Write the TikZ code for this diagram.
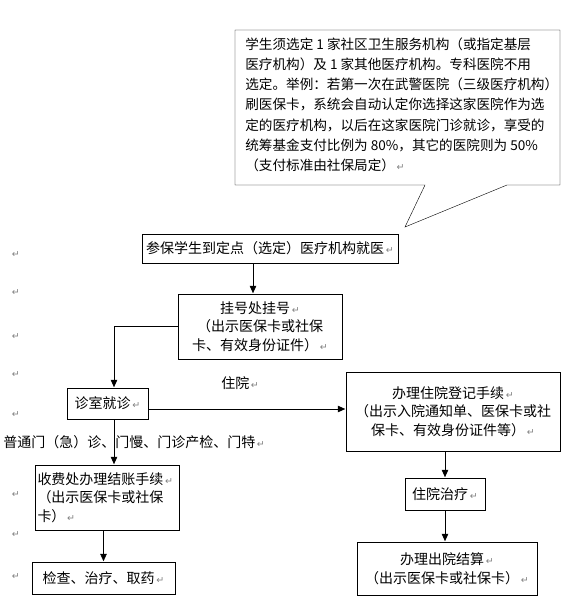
\documentclass[tikz,border=0pt]{standalone}
\usepackage{fontspec}
\setmainfont{Noto Sans CJK SC}
\newfontfamily\retfont{DejaVu Sans}
\usetikzlibrary{arrows.meta}
\newcommand{\ret}{{\retfont\fontsize{9.5}{9.5}\selectfont\color{gray}\,↵}}

\begin{document}
\begin{tikzpicture}[x=1pt,y=-1pt]
\tikzset{ >={Triangle[length=8pt,width=7pt]}, line width=0.75pt,
  box/.style={draw, inner sep=2pt, align=center, font=\fontsize{14}{18.5}\selectfont},
  lbl/.style={inner sep=0pt, anchor=west, font=\fontsize{14}{18}\selectfont},
  retmark/.style={inner sep=0pt}  }

\useasboundingbox (0,0) rectangle (579,608);

% speech bubble
\draw (235,30) -- (560,30) -- (560,185) -- (507,185) -- (405,227)
      -- (425,185) -- (235,185) -- cycle;
\node [lbl, anchor=north west, align=left,
       font=\fontsize{13.6}{20.3}\selectfont] (note) at (245,37)
  {学生须选定 1 家社区卫生服务机构（或指定基层\\
   医疗机构）及 1 家其他医疗机构。专科医院不用\\
   选定。举例：若第一次在武警医院（三级医疗机构）\\
   刷医保卡，系统会自动认定你选择这家医院作为选\\
   定的医疗机构，以后在这家医院门诊就诊，享受的\\
   统筹基金支付比例为 80\%，其它的医院则为 50\%\\
   （支付标准由社保局定）\ret};

\node [box, minimum width=256, minimum height=29] (go)  at (270,248.5)
  {参保学生到定点（选定）医疗机构就医\ret};
\node [box, minimum width=164, minimum height=65] (reg) at (260,326.5)
  {挂号处挂号\ret\\（出示医保卡或社保\\卡、有效身份证件）\ret};
\node [box, minimum width=81, minimum height=31] (clinic) at (107.5,403.5)
  {诊室就诊\ret};
\node [box, minimum width=214, minimum height=79] (admit) at (453,411.5)
  {办理住院登记手续\ret\\（出示入院通知单、医保卡或社\\保卡、有效身份证件等）\ret};
\node [box, align=left, text width=140, minimum height=65] (pay) at (107.5,497.5)
  {收费处办理结账手续\ret\\（出示医保卡或社保\\卡）\ret};
\node [box, minimum width=143, minimum height=32] (treat) at (103.5,578)
  {检查、治疗、取药\ret};
\node [box, minimum width=80, minimum height=32] (ward) at (445,494)
  {住院治疗\ret};
\node [box, minimum width=180, minimum height=53] (leave) at (447,568.5)
  {办理出院结算\ret\\（出示医保卡或社保卡）\ret};

\node [lbl] (inpat) at (221,383) {住院\ret};
\node [lbl] (outpat) at (3,442) {普通门（急）诊、门慢、门诊产检、门特\ret};

\coordinate (c1) at (253,0);
\coordinate (c2) at (114,0);
\coordinate (c3) at (0,409);

\draw [->] (go.south -| c1) -- (reg.north -| c1);
\draw [->] (reg.west) -| (clinic.north -| c2);
\draw [->] (clinic.east |- c3) -- (admit.west |- c3);
\draw [->] (clinic.south -| c2) -- (pay.north -| c2);
\draw [->] (pay.south -| treat) -- (treat.north);
\draw [->] (admit.south -| ward) -- (ward.north);
\draw [->] (ward.south) -- (leave.north -| ward);

% paragraph marks down the left margin
\foreach \y in {255,293,337,375,415,495,535,577}
  \node [retmark] at (15,\y) {\ret};

\end{tikzpicture}
\end{document}
